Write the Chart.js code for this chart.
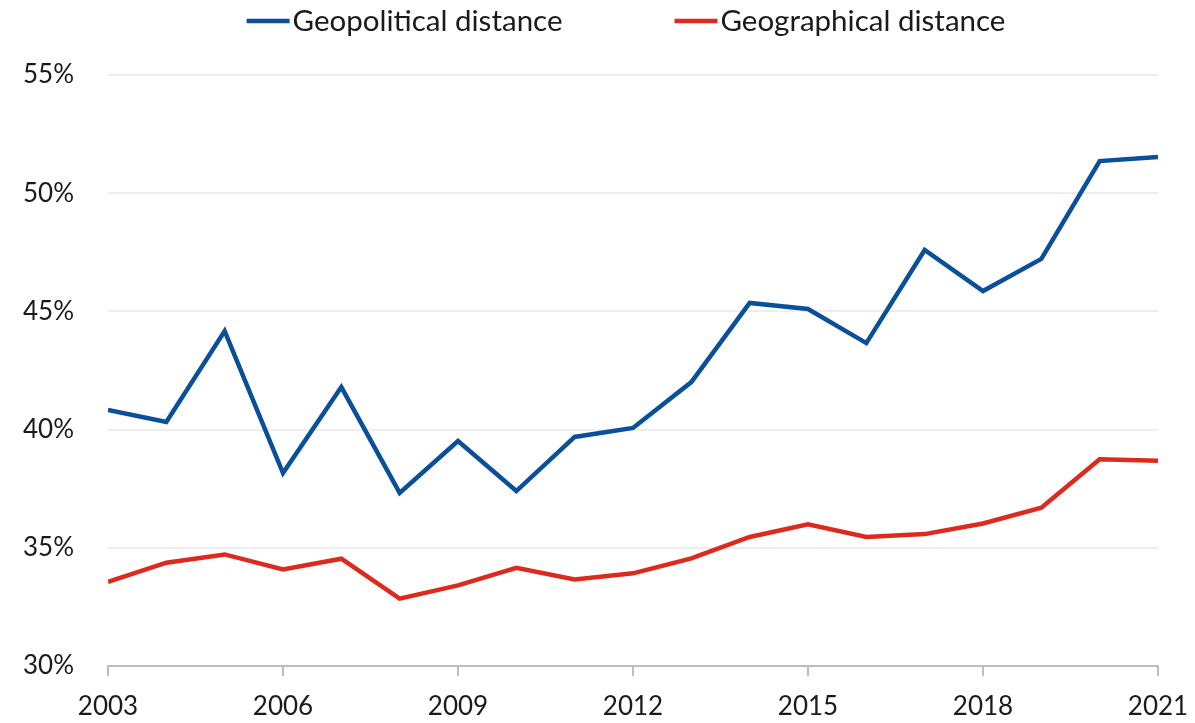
<!DOCTYPE html>
<html>
<head>
<meta charset="utf-8">
<script src="https://cdn.jsdelivr.net/npm/chart.js@4.4.1/dist/chart.umd.min.js"></script>
<style>
  html, body { margin: 0; padding: 0; background: #fff; }
</style>
</head>
<body>
<canvas id="chart" width="1195" height="723"></canvas>
<script>
const years = [2003, 2004, 2005, 2006, 2007, 2008, 2009, 2010, 2011, 2012,
               2013, 2014, 2015, 2016, 2017, 2018, 2019, 2020, 2021]
const geopolitical = [40.83, 40.32, 44.17, 38.16, 41.80, 37.32, 39.52, 37.40, 39.69, 40.07,
                      42.01, 45.36, 45.10, 43.66, 47.60, 45.86, 47.22, 51.36, 51.53]
const geographical = [33.56, 34.37, 34.72, 34.08, 34.54, 32.85, 33.41, 34.15, 33.66, 33.92,
                      34.55, 35.46, 35.99, 35.46, 35.58, 36.03, 36.70, 38.75, 38.68]
const xTickYears = [2003, 2006, 2009, 2012, 2015, 2018, 2021]
const yTickValues = [30, 35, 40, 45, 50, 55]
const seriesNames = ['Geopolitical distance', 'Geographical distance']

const blue = '#0a4f9a'
const red = '#dc2a1f'

Chart.defaults.font.family = 'Lato'
Chart.defaults.font.size = 26
Chart.defaults.color = '#1a1a1a'

// legend drawn by hand: line sample + label, roughly centred over the plot
const lineLegend = {
  id: 'lineLegend',
  afterDraw(chart) {
    const ctx = chart.ctx
    const area = chart.chartArea
    const sample = 43, gap = 3, between = 112, y = 21
    ctx.save()
    ctx.font = '29.5px Lato'
    ctx.textBaseline = 'middle'
    const items = chart.data.datasets.map(ds => ({
      text: ds.label,
      color: ds.borderColor,
      w: sample + gap + ctx.measureText(ds.label).width
    }))
    const total = items.reduce((s, it) => s + it.w, 0) + between * (items.length - 1)
    let x = (area.left + area.right) / 2 - 7 - total / 2
    items.forEach(it => {
      ctx.strokeStyle = it.color
      ctx.lineWidth = 4.5
      ctx.beginPath()
      ctx.moveTo(x, y)
      ctx.lineTo(x + sample, y)
      ctx.stroke()
      ctx.fillStyle = '#1a1a1a'
      ctx.fillText(it.text, x + sample + gap, y)
      x += it.w + between
    })
    ctx.restore()
  }
}

new Chart(document.getElementById('chart'), {
  type: 'line',
  data: {
    datasets: [
      {
        label: seriesNames[0],
        data: years.map((yr, i) => ({ x: yr, y: geopolitical[i] })),
        borderColor: blue,
        backgroundColor: blue,
        borderWidth: 4.5,
        pointRadius: 0,
        tension: 0
      },
      {
        label: seriesNames[1],
        data: years.map((yr, i) => ({ x: yr, y: geographical[i] })),
        borderColor: red,
        backgroundColor: red,
        borderWidth: 4.5,
        pointRadius: 0,
        tension: 0
      }
    ]
  },
  options: {
    responsive: false,
    animation: false,
    layout: { padding: { top: 75, right: 37, left: 0, bottom: 0 } },
    plugins: {
      legend: { display: false },
      tooltip: { enabled: false }
    },
    scales: {
      x: {
        type: 'linear',
        min: years[0],
        max: years[years.length - 1],
        afterBuildTicks: scale => { scale.ticks = xTickYears.map(v => ({ value: v })) },
        afterFit: scale => {
          scale.height = 57
          scale.paddingLeft = 0
          scale.paddingRight = 0
        },
        ticks: {
          callback: v => String(v),
          padding: 15,
          maxRotation: 0
        },
        grid: {
          drawOnChartArea: false,
          drawTicks: true,
          tickLength: 10,
          color: '#bdbdbd',
          lineWidth: 2
        },
        border: { display: true, color: '#bdbdbd', width: 2 }
      },
      y: {
        min: yTickValues[0],
        max: yTickValues[yTickValues.length - 1],
        afterBuildTicks: scale => { scale.ticks = yTickValues.map(v => ({ value: v })) },
        afterFit: scale => { scale.width = 108 },
        ticks: {
          callback: v => v + '%',
          padding: 34
        },
        grid: {
          drawTicks: false,
          color: '#eeeeee',
          lineWidth: 2
        },
        border: { display: false }
      }
    }
  },
  plugins: [lineLegend]
})
</script>
</body>
</html>
